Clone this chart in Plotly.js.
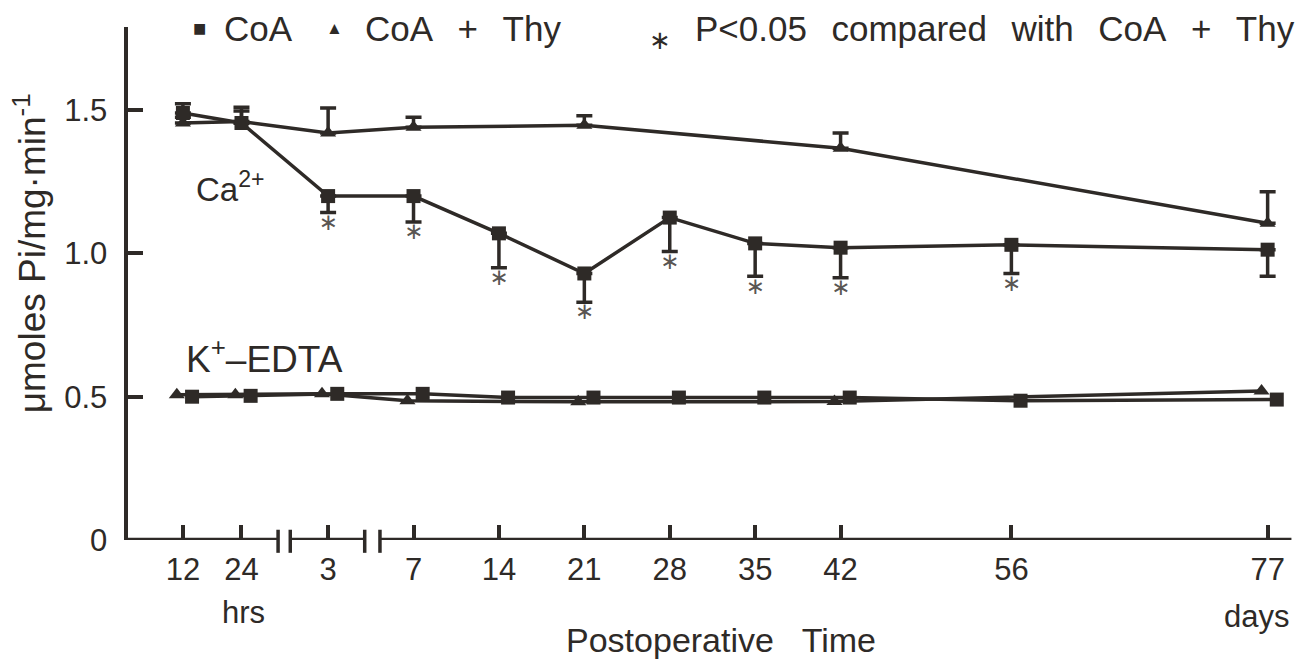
<!DOCTYPE html>
<html>
<head>
<meta charset="utf-8">
<script src="https://cdn.plot.ly/plotly-3.0.1.min.js"></script>
<style>
html, body { margin: 0; padding: 0; background: #ffffff; }
#chart { width: 1314px; height: 668px; }
</style>
</head>
<body>
<div id="chart"></div>
<script>
// ---- data ----
const timeLabels = ['12', '24', '3', '7', '14', '21', '28', '35', '42', '56', '77'];
// position of each time point on the broken axis (hrs segment, 3-day segment, day segment)
const timeAxisPos = [-11.9, -7.1, 0, 7, 14, 21, 28, 35, 42, 56, 77];

// Ca2+-ATPase, CoA
const caCoA = [1.49, 1.455, 1.20, 1.20, 1.07, 0.93, 1.125, 1.035, 1.02, 1.03, 1.013];
const caCoAErrUp = [0.032, 0.055, 0, 0, 0, 0, 0, 0, 0, 0, 0];
const caCoAErrDown = [0, 0, 0.057, 0.09, 0.12, 0.10, 0.118, 0.115, 0.105, 0.10, 0.093];
// Ca2+-ATPase, CoA + Thy
const caThy = [1.455, 1.46, 1.42, 1.44, null, 1.447, null, null, 1.367, null, 1.105];
const caThyErrUp = [0.02, 0.037, 0.087, 0.035, null, 0.033, null, null, 0.053, null, 0.11];

// K+-EDTA ATPase
const kCoA = [0.50, 0.503, 0.51, 0.51, 0.497, 0.497, 0.497, 0.497, 0.497, 0.486, 0.49];
const kThy = [0.507, 0.507, 0.51, 0.486, null, 0.482, null, null, 0.483, null, 0.52];

// P<0.05 CoA vs CoA + Thy
const significant = [false, false, true, true, true, true, true, true, true, true, false];

const legendLabels = ['CoA', 'CoA + Thy', 'P<0.05 compared with CoA + Thy'];

// ---- styling ----
const INK = '#2e2a27';
const FONT = 'Liberation Sans, Arial, Helvetica, sans-serif';
const kThyShift = -0.5, kCoAShift = 0.75;   // small dodge as in the original
const WIDE = '\u2002\u2009';                 // the original's wide word spacing
const wide = s => s.split(' ').join(WIDE);

const sigX = [], sigY = [];
significant.forEach((s, i) => {
  if (s) { sigX.push(timeAxisPos[i]); sigY.push(caCoA[i] - caCoAErrDown[i]); }
});

const traces = [
  { // Ca, CoA + Thy
    x: timeAxisPos, y: caThy, name: legendLabels[1], type: 'scatter', mode: 'lines+markers',
    connectgaps: true, showlegend: false,
    line: { color: INK, width: 3.5 },
    marker: { symbol: 'triangle-up', size: 14, color: INK },
    error_y: { type: 'data', symmetric: false, array: caThyErrUp, arrayminus: caThyErrUp.map(v => v === null ? null : 0),
               color: INK, thickness: 3.5, width: 8 }
  },
  { // Ca, CoA
    x: timeAxisPos, y: caCoA, name: legendLabels[0], type: 'scatter', mode: 'lines+markers',
    showlegend: false,
    line: { color: INK, width: 3.5 },
    marker: { symbol: 'square', size: 14, color: INK },
    error_y: { type: 'data', symmetric: false, array: caCoAErrUp, arrayminus: caCoAErrDown,
               color: INK, thickness: 3.5, width: 8 }
  },
  { // K-EDTA, CoA + Thy
    x: timeAxisPos.map(v => v + kThyShift), y: kThy, name: legendLabels[1] + ' (K+-EDTA)', type: 'scatter', mode: 'lines+markers',
    connectgaps: true, showlegend: false,
    line: { color: INK, width: 3.5 },
    marker: { symbol: 'triangle-up', size: 14, color: INK }
  },
  { // K-EDTA, CoA
    x: timeAxisPos.map(v => v + kCoAShift), y: kCoA, name: legendLabels[0] + ' (K+-EDTA)', type: 'scatter', mode: 'lines+markers',
    showlegend: false,
    line: { color: INK, width: 3.5 },
    marker: { symbol: 'square', size: 14, color: INK }
  },
  { // significance asterisks
    x: sigX, y: sigY, name: legendLabels[2], type: 'scatter', mode: 'text',
    text: sigX.map(() => '\u2217'), textposition: 'bottom center', showlegend: false,
    textfont: { family: 'DejaVu Sans, sans-serif', size: 23, color: '#5a5653' }, hoverinfo: 'skip'
  }
];

// broken x-axis drawn as segments with end bars
const segs = [[-16.4, -4.1], [-3.1, 3.0], [4.25, 78.95]];
const shapes = [];
segs.forEach(s => {
  shapes.push({ type: 'line', xref: 'x', yref: 'y', x0: s[0], x1: s[1], y0: 0, y1: 0,
                line: { color: INK, width: 4.5 } });
});
[-4.1, -3.1, 3.0, 4.25].forEach(xv => {
  shapes.push({ type: 'line', xref: 'x', yref: 'paper', x0: xv, x1: xv, y0: 0.02, y1: -0.025,
                line: { color: INK, width: 3.5 } });
});

const txt = (size) => ({ family: FONT, size: size, color: INK });
const ann = (o) => Object.assign({ showarrow: false, xanchor: 'center', yanchor: 'middle' }, o);
const annotations = [
  ann({ text: 'Ca<sup>2+</sup>', xref: 'x', yref: 'y', x: -8.0, y: 1.23, font: txt(33) }),
  ann({ text: 'K<sup>+</sup>\u2013EDTA', xref: 'x', yref: 'y', x: -11.8, y: 0.64, xanchor: 'left', font: txt(37) }),
  ann({ text: 'hrs', xref: 'x', yref: 'paper', x: -6.9, y: -0.142, font: txt(31) }),
  ann({ text: 'days', xref: 'x', yref: 'paper', x: 76.1, y: -0.15, font: txt(31) }),
  ann({ text: 'μmoles Pi/mg·min<sup>-1</sup>', xref: 'paper', yref: 'paper', x: -0.0826, y: 0.559,
        textangle: -90, font: txt(37) }),
  // legend row
  ann({ text: '■', xref: 'paper', yref: 'paper', x: 0.0607, y: 0.998, font: txt(22) }),
  ann({ text: legendLabels[0], xref: 'paper', yref: 'paper', x: 0.079, y: 0.998, xanchor: 'left', font: txt(35) }),
  ann({ text: '▲', xref: 'paper', yref: 'paper', x: 0.1745, y: 0.998, font: txt(17) }),
  ann({ text: wide(legendLabels[1]), xref: 'paper', yref: 'paper', x: 0.198, y: 0.998, xanchor: 'left', font: txt(35) }),
  ann({ text: '\u2217', xref: 'paper', yref: 'paper', x: 0.4486, y: 0.974, font: { family: 'DejaVu Sans, sans-serif', size: 26, color: INK } }),
  ann({ text: wide(legendLabels[2]), xref: 'paper', yref: 'paper', x: 0.476, y: 0.998, xanchor: 'left', font: txt(35) })
];

const layout = {
  width: 1314, height: 668,
  margin: { l: 128, r: 0, t: 27, b: 128 },
  paper_bgcolor: '#ffffff', plot_bgcolor: '#ffffff',
  font: { family: FONT, color: INK },
  showlegend: false,
  xaxis: {
    range: [-16.4, 80.8], showgrid: false, zeroline: false, showline: false,
    tickmode: 'array', tickvals: timeAxisPos, ticktext: timeLabels,
    ticks: 'inside', ticklen: 15, tickwidth: 4, tickcolor: INK,
    tickfont: txt(31), ticklabelstandoff: 8,
    title: { text: 'Postoperative\u00a0\u00a0 Time', font: txt(34), standoff: 42 }
  },
  yaxis: {
    range: [0, 1.79], showgrid: false, zeroline: false, showline: true, linewidth: 4.5, linecolor: INK,
    tickmode: 'array', tickvals: [0, 0.5, 1.0, 1.5], ticktext: ['0', '0.5', '1.0', '1.5'],
    ticks: 'inside', ticklen: 15, tickwidth: 4, tickcolor: INK,
    tickfont: txt(31), ticklabelstandoff: 10
  },
  shapes: shapes,
  annotations: annotations
};

Plotly.newPlot('chart', traces, layout, { displayModeBar: false, staticPlot: true });
</script>
</body>
</html>
